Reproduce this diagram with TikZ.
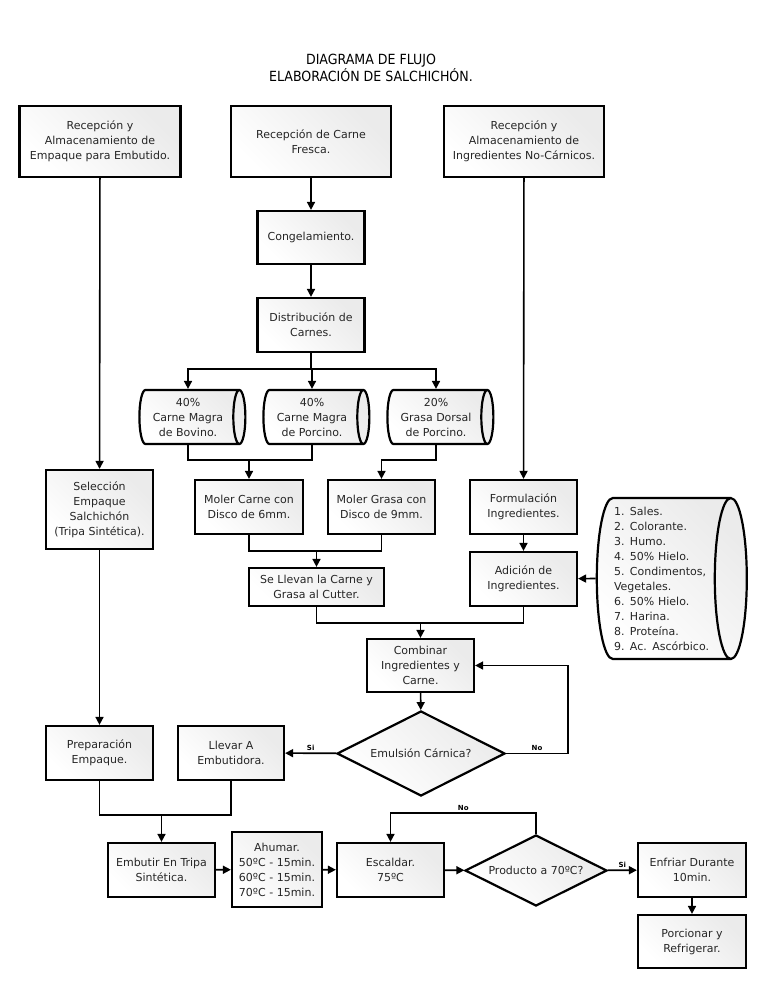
\documentclass[tikz,border=0pt]{standalone}
\usepackage{fontspec}
\setmainfont{DejaVu Sans}
\newfontfamily\titlefont{DejaVu Sans Condensed}
\usetikzlibrary{shapes.geometric, arrows.meta, positioning}
\newcommand\flowfont{\fontsize{11}{15}\selectfont}
\tikzset{
>={Triangle[length=8pt,width=8pt]}, % filled triangle heads
process/.style={rectangle, draw, line width=2.2pt, top color=gray!16, bottom color=white, shading angle=-45, align=center, font=\flowfont, text=black!85, inner sep=1pt}, % every step box
stock/.style={cylinder, draw, line width=2.2pt, aspect=0.3, top color=gray!16, bottom color=white, shading angle=-45, align=center, font=\flowfont, text=black!85, inner sep=1pt}, % raw material
check/.style={diamond, draw, line width=2.2pt, aspect=2, top color=gray!16, bottom color=white, shading angle=-45, align=center, font=\flowfont, text=black!85, inner sep=0pt}, % decisions
answer/.style={font=\fontsize{7}{8}\selectfont\bfseries, inner sep=2pt}, % Si / No
}
\begin{document}
\begin{tikzpicture}[x=1pt, y=-1pt, line width=1.6pt]
\useasboundingbox (0,0) rectangle (768,994);
\node[align=center, font=\titlefont\fontsize{14}{17}\selectfont] (title) at (371,68) {DIAGRAMA DE FLUJO\\ELABORACIÓN DE SALCHICHÓN.};
% top row
\node[process, minimum width=161pt, minimum height=71pt] (recemp) at (100,141.5) {Recepción y\\Almacenamiento de\\Empaque para Embutido.};
\node[process, minimum width=160pt, minimum height=71pt] (recarne) at (311,141.5) {Recepción de Carne\\Fresca.};
\node[process, minimum width=160pt, minimum height=71pt] (recing) at (524,141.5) {Recepción y\\Almacenamiento de\\Ingredientes No-Cárnicos.};
% meat line
\node[process, minimum width=107pt, minimum height=53pt] (cong) at (311,237.5) {Congelamiento.};
\node[process, minimum width=107pt, minimum height=54pt] (dist) at (311,325) {Distribución de\\Carnes.};
\node[stock, minimum width=54pt, minimum height=106pt] (bovino) at (188,417) {40\%\\Carne Magra\\de Bovino.};
\node[stock, minimum width=54pt, minimum height=106pt] (porcino) at (312,417) {40\%\\Carne Magra\\de Porcino.};
\node[stock, minimum width=54pt, minimum height=106pt] (grasa) at (436,417) {20\%\\Grasa Dorsal\\de Porcino.};
\node[process, minimum width=108pt, minimum height=54pt] (molc) at (249,507) {Moler Carne con\\Disco de 6mm.};
\node[process, minimum width=107pt, minimum height=54pt] (molg) at (381.5,507) {Moler Grasa con\\Disco de 9mm.};
\node[process, minimum width=135pt, minimum height=38pt] (cutter) at (316.5,587) {Se Llevan la Carne y\\Grasa al Cutter.};
% casing line
\node[process, minimum width=107pt, minimum height=79pt] (sel) at (99.5,509.5) {Selección\\Empaque\\Salchichón\\(Tripa Sintética).};
\node[process, minimum width=107pt, minimum height=54pt] (prep) at (99.5,753) {Preparación\\Empaque.};
% ingredients line
\node[process, minimum width=107pt, minimum height=54pt] (form) at (523.5,507) {Formulación\\Ingredientes.};
\node[process, minimum width=107pt, minimum height=54pt] (adic) at (523.5,579) {Adición de\\Ingredientes.};
\node[stock, aspect=0.22, minimum width=161pt, minimum height=150pt, text width=96pt, align=left] (ing) at (662,578.5) {1. Sales.\\2. Colorante.\\3. Humo.\\4. 50\% Hielo.\\5. Condimentos,\\Vegetales.\\6. 50\% Hielo.\\7. Harina.\\8. Proteína.\\9. Ac. Ascórbico.};
% mixing and stuffing
\node[process, minimum width=107pt, minimum height=53pt] (comb) at (420.5,665.5) {Combinar\\Ingredientes y\\Carne.};
\node[check, minimum width=168pt, minimum height=85pt] (emul) at (421,753.5) {Emulsión Cárnica?};
\node[process, minimum width=106pt, minimum height=54pt] (llevar) at (231,753) {Llevar A\\Embutidora.};
\node[process, minimum width=107pt, minimum height=54pt] (emb) at (161.5,870) {Embutir En Tripa\\Sintética.};
\node[process, minimum width=90pt, minimum height=75pt] (ahumar) at (277,869.5) {Ahumar.\\50ºC - 15min.\\60ºC - 15min.\\70ºC - 15min.};
\node[process, minimum width=107pt, minimum height=54pt] (esc) at (390.5,870) {Escaldar.\\75ºC};
\node[check, minimum width=142pt, minimum height=71pt] (prod) at (536,870.5) {Producto a 70ºC?};
\node[process, minimum width=108pt, minimum height=54pt] (enf) at (692,870) {Enfriar Durante\\10min.};
\node[process, minimum width=108pt, minimum height=53pt] (porc) at (692,941.5) {Porcionar y\\Refrigerar.};
% junctions
\coordinate (split) at (311,369);
\coordinate (jcarne) at (249,460);
\coordinate (jgrasa) at (381.5,460);
\coordinate (jmolido) at (316.5,551);
\coordinate (jmezcla) at (420.5,623);
\coordinate (jno) at (568,753.5);
\coordinate (jtripa) at (161.5,815);
\coordinate (jtemp) at (536,813);
% connectors
\draw[->] (recemp) -- (sel);
\draw[->] (sel) -- (prep);
\draw[->] (recarne) -- (cong);
\draw[->] (cong) -- (dist);
\draw (dist) -- (split);
\draw[->] (split) -| (bovino);
\draw[->] (split) -| (porcino);
\draw[->] (split) -| (grasa);
\draw (bovino.south) |- (jcarne) -| (porcino.south);
\draw[->] (jcarne) -- (molc);
\draw[->] (grasa.south) |- (jgrasa) -- (molg);
\draw (molc.south) |- (jmolido) -| (molg.south);
\draw[->] (jmolido) -- (cutter);
\draw[->] (recing) -- (form);
\draw[->] (form) -- (adic);
\draw[->] (ing.west) -- (adic);
\draw (cutter.south) |- (jmezcla) -| (adic.south);
\draw[->] (jmezcla) -- (comb);
\draw[->] (comb) -- (emul);
\draw[->] (emul) -- node[answer, above] {Si} (llevar);
\draw[->] (emul) -- node[answer, above] {No} (jno) |- (comb);
\draw (prep.south) |- (jtripa) -| (llevar.south);
\draw[->] (jtripa) -- (emb);
\draw[->] (emb) -- (ahumar);
\draw[->] (ahumar) -- (esc);
\draw[->] (esc) -- (prod);
\draw[->] (prod) -- node[answer, above] {Si} (enf);
\draw[->] (prod.north) -- (jtemp) -| node[answer, above, pos=0.25] {No} (esc);
\draw[->] (enf) -- (porc);
\end{tikzpicture}
\end{document}
